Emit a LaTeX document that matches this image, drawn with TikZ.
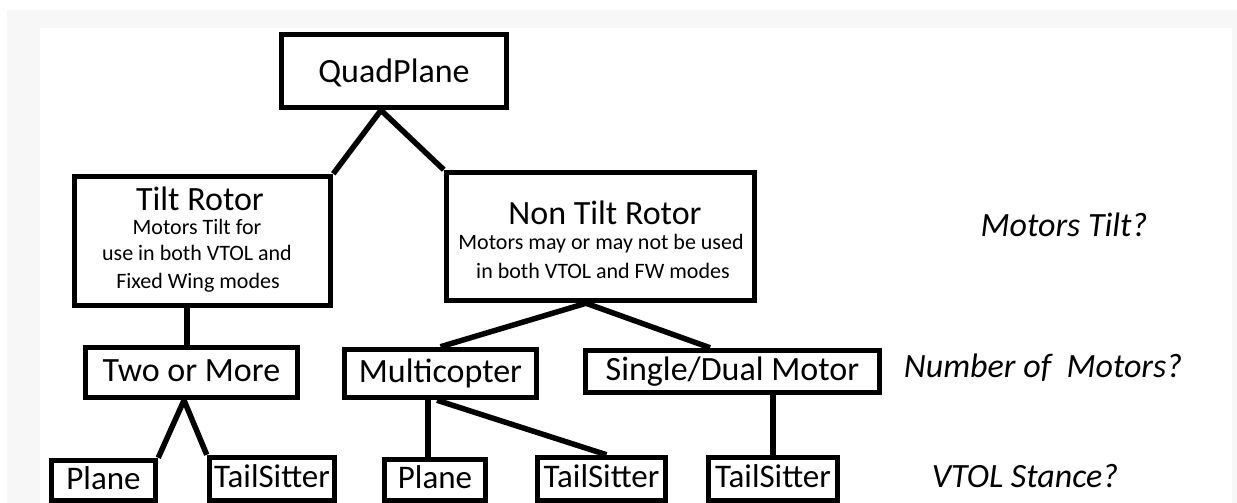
\documentclass[tikz,border=0pt]{standalone}
\usepackage{fontspec}
\setmainfont{Carlito}
\begin{document}
\begin{tikzpicture}[x=1pt,y=-1pt,
  box/.style={draw=black, line width=5.5pt, fill=white, inner sep=0pt,
    text height=24pt, text depth=7pt, font=\fontsize{34}{40}\selectfont},
  bbox/.style={box, font=\fontsize{33}{40}\selectfont},
  link/.style={line width=5.5pt, line cap=butt, line join=round},
  hd/.style={anchor=base, inner sep=0pt, font=\fontsize{34}{40}\selectfont},
  sm/.style={anchor=base, inner sep=0pt, font=\fontsize{22}{26}\selectfont},
  qs/.style={anchor=base, inner sep=0pt, font=\fontsize{34}{40}\selectfont\itshape}]
\useasboundingbox (0,0) rectangle (1237,503);
\clip (0,0) rectangle (1237,503);
\fill[white] (0,0) rectangle (1237,503);
\fill[black!3] (7,10) rectangle (1237,503);
\fill[white] (40,28) rectangle (1232,503);

% boxes
\node[box, text depth=2pt, minimum width=225pt, minimum height=73pt] (qp) at (394,71) {QuadPlane};
\node[box, minimum width=256pt, minimum height=129pt] (tr) at (202.5,241) {};
\node[box, minimum width=308pt, minimum height=128pt] (ntr) at (600.5,236.5) {};
\node[box, minimum width=212pt, minimum height=50pt] (two) at (191.5,372.5) {Two or More};
\node[box, minimum width=192pt, minimum height=48pt] (mc) at (440.5,373.5) {Multicopter};
\node[box, minimum width=294pt, minimum height=42pt] (sd) at (732.5,371.5) {Single/Dual Motor};
\node[bbox, minimum width=104pt, minimum height=40pt] (p1) at (103.5,480.5) {Plane};
\node[bbox, minimum width=125pt, minimum height=43pt] (ts1) at (272,479) {TailSitter};
\node[bbox, minimum width=101pt, minimum height=41pt] (p2) at (435,480) {Plane};
\node[bbox, minimum width=128pt, minimum height=43pt] (ts2) at (601.5,479) {TailSitter};
\node[bbox, minimum width=129pt, minimum height=43pt] (ts3) at (773,479) {TailSitter};

% texts in the two large boxes
\node[hd] (trh) at (200,210) {Tilt Rotor};
\node[sm] (tr1) at (197,234) {Motors Tilt for};
\node[sm] (tr2) at (197,260) {use in both VTOL and};
\node[sm] (tr3) at (198,288) {Fixed Wing modes};
\node[hd] (ntrh) at (605,224) {Non Tilt Rotor};
\node[sm] (ntr1) at (601,249) {Motors may or may not be used};
\node[sm] (ntr2) at (603,278) {in both VTOL and FW modes};

% question labels
\node[qs] (q1) at (1064,236) {Motors Tilt?};
\node[qs] (q2) at (1043,377) {Number of\ \ Motors?};
\node[qs] (q3) at (1025,487) {VTOL Stance?};

% connectors
\draw[link] (tr.north east) -- ([xshift=-13pt]qp.south) -- (ntr.north west);
\draw[link] ([xshift=-15.5pt]tr.south) -- ([xshift=-15.5pt]tr.south |- two.north);
\draw[link] (mc.north) -- ([xshift=-14.5pt]ntr.south) -- ([xshift=-22.5pt]sd.north);
\draw[link] (p1.north east) -- ([xshift=-7.5pt]two.south) -- (ts1.north west);
\draw[link] ([xshift=-12.5pt]mc.south) -- ([xshift=-12.5pt]mc.south |- p2.north);
\draw[link] ([xshift=-3.5pt]mc.south) -- ([xshift=5pt]ts2.north);
\draw[link] (ts3.north |- sd.south) -- (ts3.north);
\end{tikzpicture}
\end{document}
